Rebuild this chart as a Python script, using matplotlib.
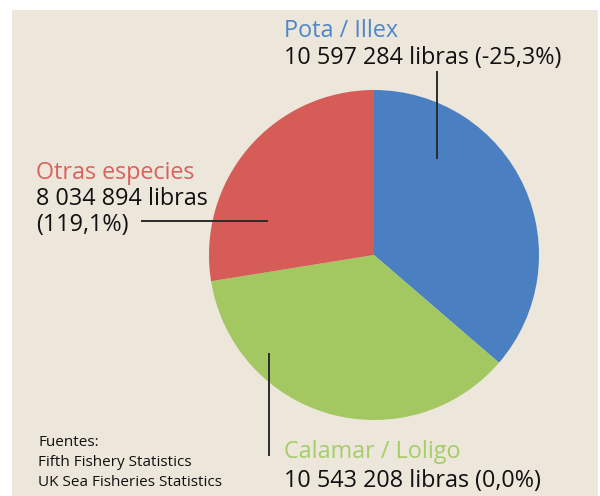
import matplotlib.pyplot as plt
from matplotlib.patches import Rectangle

# data
species = ['Pota / Illex', 'Calamar / Loligo', 'Otras especies']
pounds = [10597284, 10543208, 8034894]
amount_lines = [['10 597 284 libras (-25,3%)'],
                ['10 543 208 libras (0,0%)'],
                ['8 034 894 libras', '(119,1%)']]
colors = ['#4A7FC1', '#A3C862', '#D65C58']
label_colors = ['#4E87CA', '#A5CD69', '#DA625E']
sources = ['Fuentes:', 'Fifth Fishery Statistics', 'UK Sea Fisheries Statistics']

plt.rcParams['font.family'] = ['Open Sans', 'DejaVu Sans']

W, H = 600, 496
fig = plt.figure(figsize=(6, 4.96), dpi=100, facecolor='white')
ax = fig.add_axes([0, 0, 1, 1])

# beige panel
ax.add_patch(Rectangle((12, 0), 586, 486, facecolor='#EDE6DA', edgecolor='none', zorder=0))

ax.pie(pounds, colors=colors, startangle=90, counterclock=False,
       center=(374, H - 255), radius=165, wedgeprops=dict(linewidth=0))

ax.set_xlim(0, W)
ax.set_ylim(0, H)
ax.set_aspect('equal')
ax.axis('off')

line_kw = dict(color='#2b2b2b', lw=1.4, zorder=5)
fs = 16.8

# label blocks: (x, first baseline in px from top, line step)
blocks = [(284, 37, 27), (284, 458, 29), (36, 179, 26)]
for i, (x, y0, step) in enumerate(blocks):
    ax.text(x, H - y0, species[i], color=label_colors[i], fontsize=fs, va='baseline')
    for j, line in enumerate(amount_lines[i]):
        ax.text(x, H - y0 - step * (j + 1), line, color='#111111', fontsize=fs, va='baseline')

# leader lines
ax.plot([437, 437], [H - 72, H - 158], **line_kw)
ax.plot([269, 269], [H - 354, H - 455], **line_kw)
ax.plot([142, 267], [H - 221, H - 221], **line_kw)

# sources
for i, s in enumerate(sources):
    ax.text(38, H - 446 - 20 * i, s, color='#111111', fontsize=11, va='baseline')

fig.savefig('out.png', dpi=100, facecolor='white')
